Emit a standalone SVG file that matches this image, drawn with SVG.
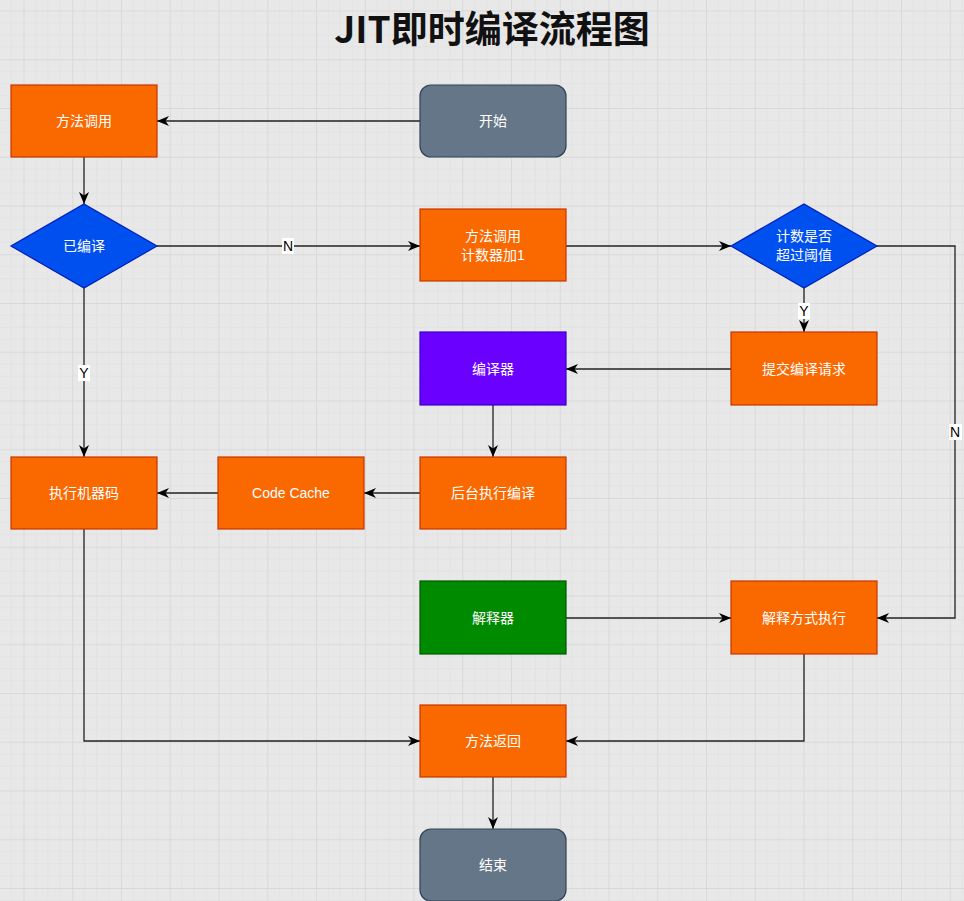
<svg xmlns="http://www.w3.org/2000/svg" width="964" height="901" viewBox="0 0 964 901">
<defs>
<pattern id="grid" x="23.5" y="10.5" width="48.75" height="48.75" patternUnits="userSpaceOnUse">
<path d="M12.19 0V48.75M24.38 0V48.75M36.56 0V48.75M0 12.19H48.75M0 24.38H48.75M0 36.56H48.75" stroke="#e2e2e2" stroke-width="1" fill="none"/>
<path d="M0.5 0V48.75M0 0.5H48.75" stroke="#d9d9d9" stroke-width="1" fill="none"/>
</pattern>
<marker id="arr" markerWidth="13" markerHeight="11" refX="12" refY="5.5" orient="auto" markerUnits="userSpaceOnUse">
<path d="M0,0.5 L12,5.5 L0,10.5 L3.5,5.5 Z" fill="#000"/>
</marker>
<style>
.o{fill:#fa6800;stroke:#c73500;stroke-width:1.2}
.g{fill:#647687;stroke:#314354;stroke-width:1.2}
.b{fill:#0050ef;stroke:#001dbc;stroke-width:1.2}
.p{fill:#6a00ff;stroke:#3700cc;stroke-width:1.2}
.gr{fill:#008a00;stroke:#005700;stroke-width:1.2}
.t{fill:#fff;font-family:"Liberation Sans","Noto Sans CJK SC",sans-serif;font-size:14px;text-anchor:middle;dominant-baseline:central}
.c{fill:none;stroke:#222;stroke-width:1.3;marker-end:url(#arr)}
.lb{fill:#000;font-family:"Liberation Sans",Arial,sans-serif;font-size:14px;text-anchor:middle;dominant-baseline:central}
</style>
</defs>
<rect width="964" height="901" fill="#e8e8e8"/>
<rect width="964" height="901" fill="url(#grid)"/>
<text x="492" y="27" font-family="'Noto Sans CJK SC',sans-serif" font-weight="bold" font-size="37" text-anchor="middle" dominant-baseline="central" fill="#111">JIT即时编译流程图</text>

<g id="connectors">
<path class="c" d="M420,121H157"/>
<path class="c" d="M84,157V204"/>
<path class="c" d="M157,246H420"/>
<path class="c" d="M566,246H731"/>
<path class="c" d="M804,288V332"/>
<path class="c" d="M877,246H955V618H877"/>
<path class="c" d="M731,369H566"/>
<path class="c" d="M493,405V457"/>
<path class="c" d="M420,493H364"/>
<path class="c" d="M218,493H157"/>
<path class="c" d="M84,288V457"/>
<path class="c" d="M566,618H731"/>
<path class="c" d="M84,529V741H420"/>
<path class="c" d="M804,654V741H566"/>
<path class="c" d="M493,777V829"/>
<rect x="282" y="238" width="12" height="16" fill="#fff"/>
<text class="lb" x="288" y="246">N</text>
<rect x="798" y="303" width="12" height="16" fill="#fff"/>
<text class="lb" x="804" y="311">Y</text>
<rect x="949" y="424" width="13" height="16" fill="#fff"/>
<text class="lb" x="955" y="432">N</text>
<rect x="78" y="365" width="12" height="16" fill="#fff"/>
<text class="lb" x="84" y="373">Y</text>
</g>

<g id="n-call"><rect class="o" x="11" y="85" width="146" height="72"/><text class="t" x="84" y="121">方法调用</text></g>
<g id="n-start"><rect class="g" x="420" y="85" width="146" height="72" rx="11"/><text class="t" x="493" y="121">开始</text></g>
<g id="n-compiled"><polygon class="b" points="84,204 157,246 84,288 11,246"/><text class="t" x="84" y="246">已编译</text></g>
<g id="n-counter"><rect class="o" x="420" y="209" width="146" height="72"/><text class="t" x="493" y="236">方法调用</text><text class="t" x="493" y="255">计数器加1</text></g>
<g id="n-threshold"><polygon class="b" points="804,204 877,246 804,288 731,246"/><text class="t" x="804" y="236">计数是否</text><text class="t" x="804" y="255">超过阈值</text></g>
<g id="n-compiler"><rect class="p" x="420" y="332" width="146" height="73"/><text class="t" x="493" y="369">编译器</text></g>
<g id="n-submit"><rect class="o" x="731" y="332" width="146" height="73"/><text class="t" x="804" y="369">提交编译请求</text></g>
<g id="n-exec"><rect class="o" x="11" y="457" width="146" height="72"/><text class="t" x="84" y="493">执行机器码</text></g>
<g id="n-cache"><rect class="o" x="218" y="457" width="146" height="72"/><text class="t" x="291" y="493">Code Cache</text></g>
<g id="n-bg"><rect class="o" x="420" y="457" width="146" height="72"/><text class="t" x="493" y="493">后台执行编译</text></g>
<g id="n-interp"><rect class="gr" x="420" y="581" width="146" height="73"/><text class="t" x="493" y="618">解释器</text></g>
<g id="n-interpexec"><rect class="o" x="731" y="581" width="146" height="73"/><text class="t" x="804" y="618">解释方式执行</text></g>
<g id="n-return"><rect class="o" x="420" y="705" width="146" height="72"/><text class="t" x="493" y="741">方法返回</text></g>
<g id="n-end"><rect class="g" x="420" y="829" width="146" height="72" rx="11"/><text class="t" x="493" y="865">结束</text></g>
</svg>
